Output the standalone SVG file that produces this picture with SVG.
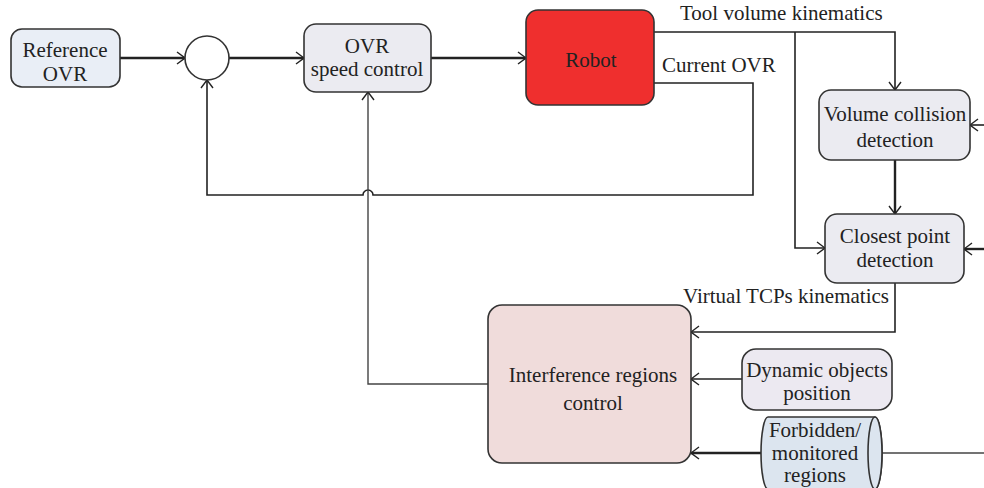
<svg xmlns="http://www.w3.org/2000/svg" width="984" height="488" viewBox="0 0 984 488">
<defs>
<marker id="arr" markerWidth="10" markerHeight="14" refX="9" refY="7" orient="auto" markerUnits="userSpaceOnUse"><path d="M1,1 L9,7 L1,13" fill="none" stroke="#222" stroke-width="1.4"/></marker>
<style>
text{font-family:'Liberation Serif','Times New Roman',serif;font-size:21px;fill:#222}
.t{text-anchor:middle}
.b{stroke:#333;stroke-width:1.6}
.c{fill:none;stroke:#222;stroke-width:1.6}
.c2{fill:none;stroke:#222;stroke-width:2.4}
.g{fill:none;stroke:#444;stroke-width:1.4}
</style>
</defs>
<rect width="984" height="488" fill="#fff"/>
<g id="connectors">
<path class="c2" d="M120,58 H185" marker-end="url(#arr)"/>
<path class="c2" d="M229,58 H304" marker-end="url(#arr)"/>
<path class="c2" d="M431,58 H526" marker-end="url(#arr)"/>
<path class="c" d="M654,32 H895 V90" marker-end="url(#arr)"/>
<path class="c" d="M795,32 V248 H825" marker-end="url(#arr)"/>
<path class="c2" d="M895,160 V214" marker-end="url(#arr)"/>
<path class="c" d="M984,125 H970" marker-end="url(#arr)"/>
<path class="c2" d="M984,249 H964" marker-end="url(#arr)"/>
<path class="c" d="M895,283 V332 H691" marker-end="url(#arr)"/>
<path class="c" d="M654,83 H753 V195 H373 a5,5 0 0 0 -10,0 H207 V80" marker-end="url(#arr)"/>
<path class="g" d="M488,384 H368 V92" marker-end="url(#arr)"/>
<path class="c" d="M742,379 H691" marker-end="url(#arr)"/>
<path class="c2" d="M761,453 H691" marker-end="url(#arr)"/>
<path class="g" d="M876,453 H984"/>
</g>
<g id="reference-ovr">
<rect class="b" x="11" y="29" width="109" height="58" rx="11" fill="#e9eef6"/>
<text class="t" x="65" y="57">Reference</text>
<text class="t" x="65" y="81">OVR</text>
</g>
<g id="sum">
<circle class="b" cx="207" cy="58" r="22" fill="#fff"/>
</g>
<g id="ovr-speed-control">
<rect class="b" x="304" y="24" width="127" height="68" rx="12" fill="#ebebf1"/>
<text class="t" x="367" y="53">OVR</text>
<text class="t" x="367" y="76">speed control</text>
</g>
<g id="robot">
<rect class="b" x="526" y="10" width="128" height="95" rx="12" fill="#ef2f2e"/>
<text class="t" x="591" y="67">Robot</text>
</g>
<g id="labels">
<text x="680" y="20">Tool volume kinematics</text>
<text x="662" y="72">Current OVR</text>
<text x="683" y="303">Virtual TCPs kinematics</text>
</g>
<g id="volume-collision">
<rect class="b" x="819" y="90" width="151" height="70" rx="12" fill="#ebebf1"/>
<text class="t" x="895" y="121">Volume collision</text>
<text class="t" x="895" y="147">detection</text>
</g>
<g id="closest-point">
<rect class="b" x="825" y="214" width="139" height="69" rx="12" fill="#ebebf1"/>
<text class="t" x="895" y="243">Closest point</text>
<text class="t" x="895" y="267">detection</text>
</g>
<g id="interference">
<rect class="b" x="488" y="305" width="203" height="158" rx="14" fill="#f0dcdb"/>
<text class="t" x="593" y="382">Interference regions</text>
<text class="t" x="593" y="410">control</text>
</g>
<g id="dynamic-objects">
<rect class="b" x="742" y="349" width="150" height="61" rx="14" fill="#ece9f1"/>
<text class="t" x="817" y="377">Dynamic objects</text>
<text class="t" x="817" y="400">position</text>
</g>
<g id="forbidden-regions">
<path class="b" d="M768,417 H875 A7,36 0 0 1 875,489 H768 A7,36 0 0 1 768,417 Z" fill="#dce5ef"/>
<ellipse class="b" cx="875" cy="453" rx="7" ry="36" fill="#dce5ef"/>
<text class="t" x="815" y="437">Forbidden/</text>
<text class="t" x="815" y="460">monitored</text>
<text class="t" x="815" y="482">regions</text>
</g>
</svg>
